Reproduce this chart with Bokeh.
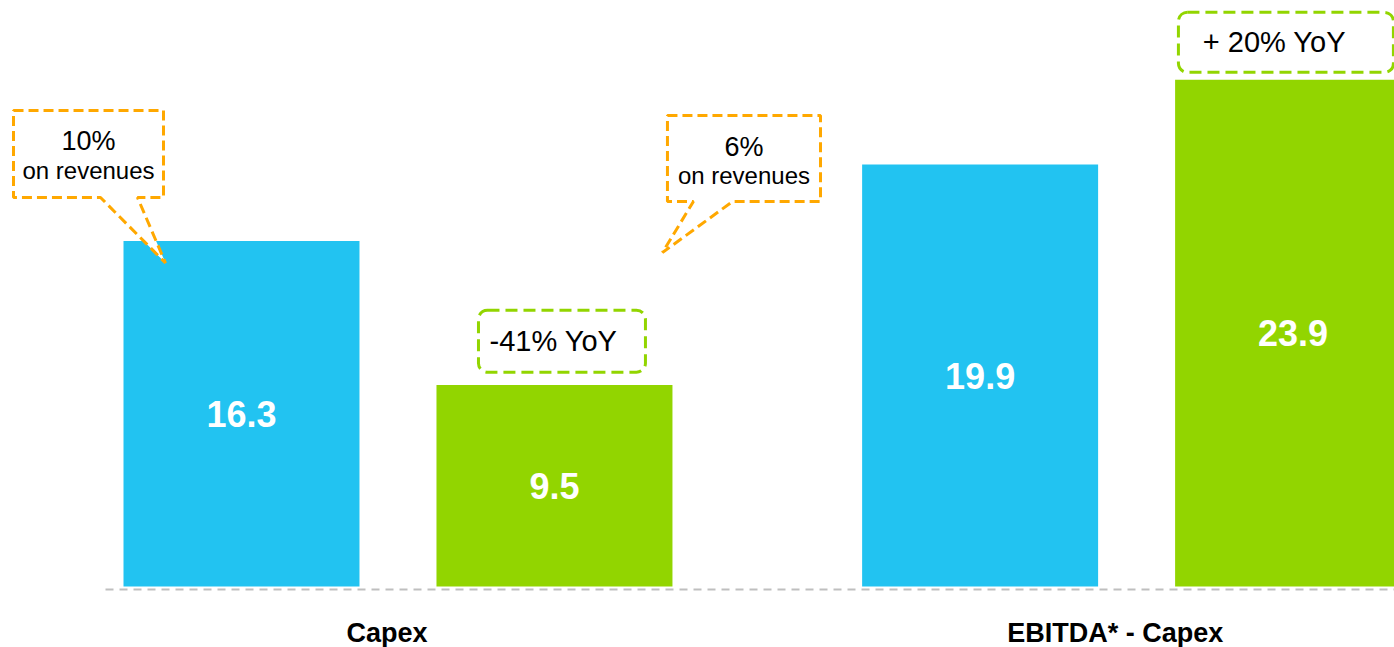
from bokeh.plotting import figure
from bokeh.models import ColumnDataSource, Range1d
from bokeh.core.properties import value
from bokeh.embed import file_html
from bokeh.resources import INLINE

# ---- data ----
groups = ["Capex", "EBITDA* - Capex"]
prior_year = [16.3, 19.9]      # blue bars
current_year = [9.5, 23.9]     # green bars
yoy_labels = ["-41% YoY", "+ 20% YoY"]
capex_share = ["10%", "6%"]
share_note = "on revenues"

BLUE = "#22C3F1"
GREEN = "#92D500"
ORANGE = "#FFA800"
FONT = value("Liberation Sans")

group_gap = 0.36
bar_w = 0.754

xs, tops, colors, labels = [], [], [], []
for gi, g in enumerate(groups):
    base = gi * (2 + group_gap)
    for si, (vals, col) in enumerate([(prior_year, BLUE), (current_year, GREEN)]):
        xs.append(base + si)
        tops.append(vals[gi])
        colors.append(col)
        labels.append(f"{vals[gi]:.1f}")

src = ColumnDataSource(dict(x=xs, top=tops, color=colors, label=labels,
                            mid=[t / 2 for t in tops]))

p = figure(width=1394, height=647, output_backend="svg", toolbar_location=None,
           x_range=Range1d(-0.77, 3.684), y_range=Range1d(-2.877, 27.64),
           x_axis_location=None, y_axis_location=None, min_border=0,
           outline_line_color=None, background_fill_color="white")
p.xgrid.visible = False
p.ygrid.visible = False

# baseline
p.segment(x0=[-0.4345], y0=[-0.14], x1=[3.684], y1=[-0.14],
          line_color="#BFBFBF", line_width=2, line_dash="8 6")

# bars
p.vbar(x="x", top="top", bottom=0, width=bar_w, fill_color="color",
       line_color=None, source=src)
p.text(x="x", y="mid", text="label", source=src, text_color="white",
       text_font=FONT, text_font_style="bold", text_font_size="36px",
       text_align="center", text_baseline="middle")

# category labels
centers = [(xs[2 * i] + xs[2 * i + 1]) / 2 for i in range(len(groups))]
cat_x = [centers[0] - 0.035, centers[1] - 0.068]
p.text(x=cat_x, y=[-2.17, -2.17], text=groups, text_color="black",
       text_font=FONT, text_font_style="bold", text_font_size="27px",
       text_align="center", text_baseline="middle")

# speech-bubble callouts (capex on revenues)
def bubble(L, R, B, T, bl, br, tip):
    return ([L, R, R, br, tip[0], bl, L], [T, T, B, B, tip[1], B, B])

b1x, b1y = bubble(-0.7284, -0.2492, 18.35, 22.45, -0.4505, -0.3323,
                  (-0.2428, prior_year[0] - 1.04))
b2x, b2y = bubble(1.361, 1.850, 18.16, 22.22, 1.444, 1.569, (1.345, 15.75))
for bx, by in [(b1x, b1y), (b2x, b2y)]:
    p.patch(bx, by, fill_color="white", line_color=ORANGE, line_width=3,
            line_dash="10 5")
p.text(x=[-0.4888, 1.6054], y=[20.99, 20.71], text=capex_share,
       text_color="black", text_font=FONT, text_font_size="27px",
       text_align="center", text_baseline="middle")
p.text(x=[-0.4888, 1.6054], y=[19.62, 19.39], text=[share_note, share_note],
       text_color="black", text_font=FONT, text_font_size="24px",
       text_align="center", text_baseline="middle")

# YoY boxes
yb_bottom = [current_year[0] + 0.61, 24.25]
yb_top = [current_year[0] + 3.53, 27.08]
p.quad(left=[0.7572, 2.9936], right=[1.2907, 3.6805], bottom=yb_bottom,
       top=yb_top, fill_color="white", line_color=GREEN, line_width=3,
       line_dash="12 6", border_radius=9)
p.text(x=[0.9968, 3.3003], y=[(b + t) / 2 for b, t in zip(yb_bottom, yb_top)],
       text=yoy_labels, text_color="black", text_font=FONT,
       text_font_size="29px", text_align="center", text_baseline="middle")

open("out.html", "w").write(file_html(p, INLINE))
